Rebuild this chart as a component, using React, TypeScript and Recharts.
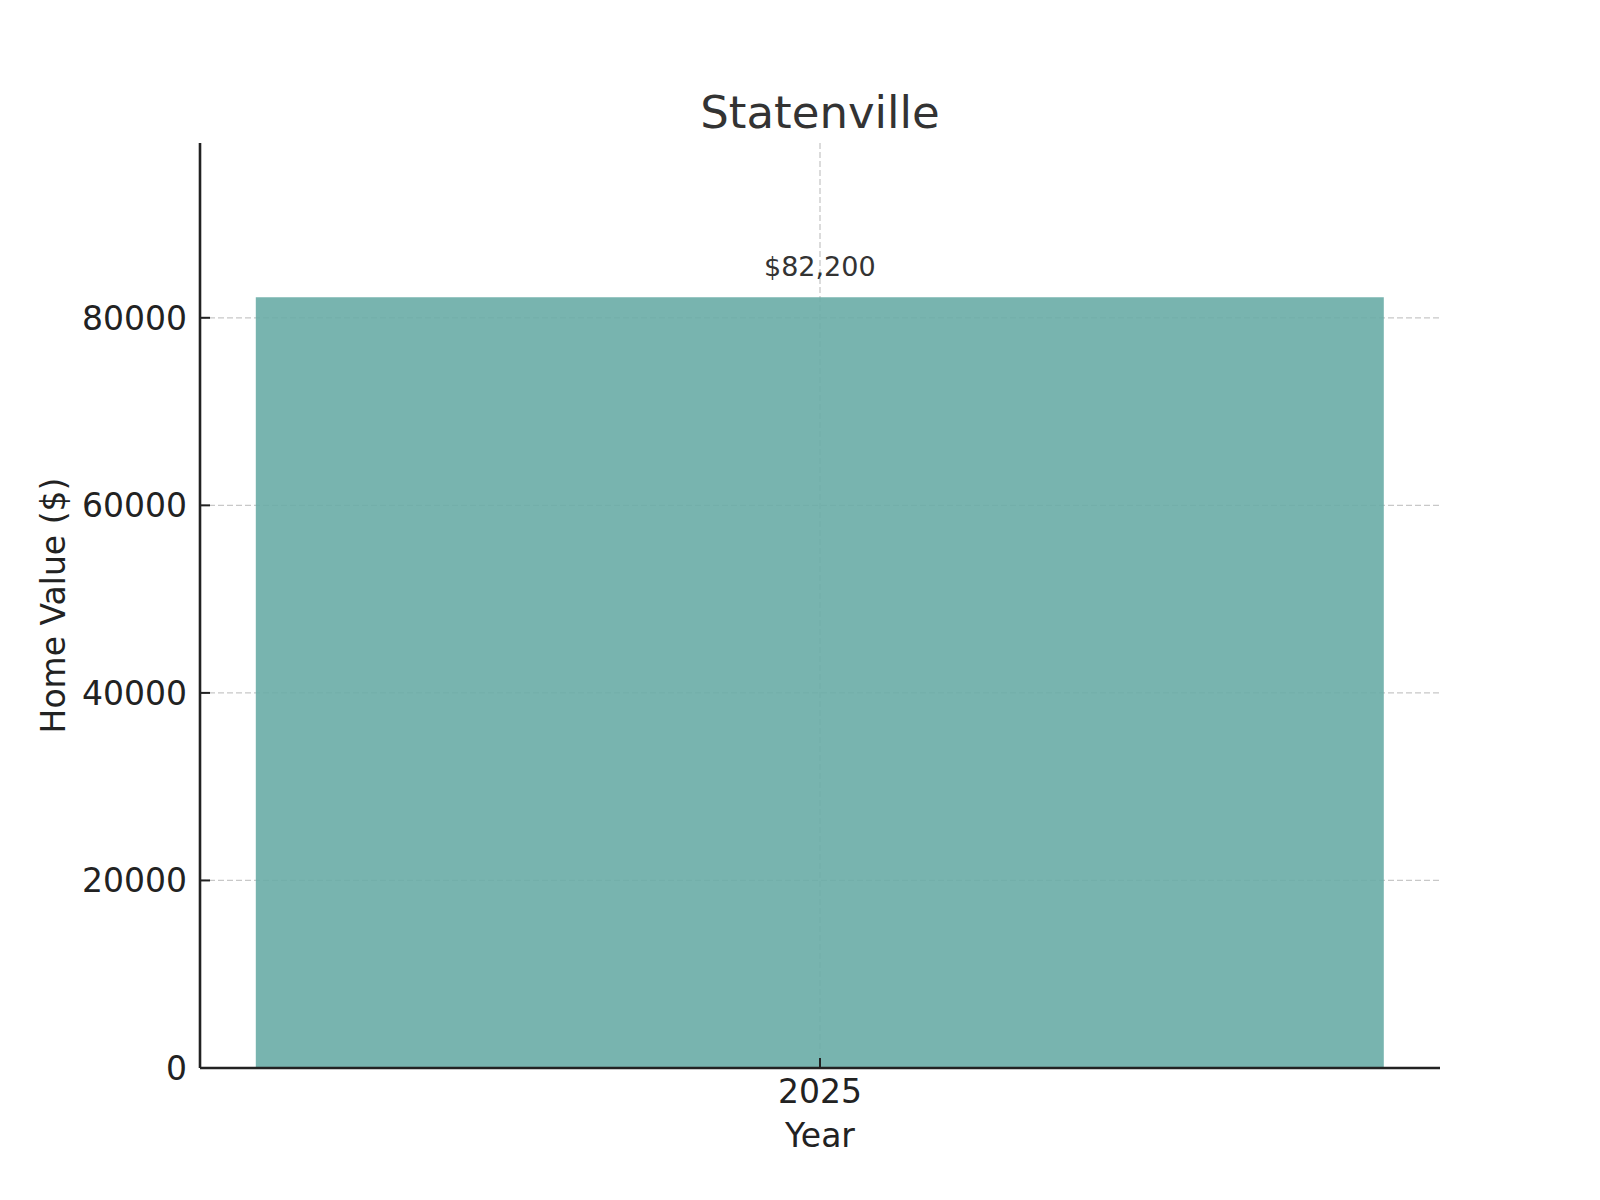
import { BarChart, Bar, XAxis, YAxis, CartesianGrid, LabelList } from 'recharts';

const years = ['2025'];
const homeValues = [82200];
const yTicks = [0, 20000, 40000, 60000, 80000];
const yMax = 98640;

const TEAL = '#69aca6';
const INK = '#222222';
const FONT = 'DejaVu Sans, sans-serif';

const data = years.map((year, i) => ({ year, value: homeValues[i] }));

function YTitle(props: any) {
  const { viewBox } = props;
  const x = viewBox.x + 5;
  const y = viewBox.y + viewBox.height / 2;
  return (
    <text x={x} y={y} transform={`rotate(-90, ${x}, ${y})`} textAnchor="middle" fontSize={33} fill={INK} fontFamily={FONT}>
      Home Value ($)
    </text>
  );
}

export default function App() {
  return (
    <div style={{ position: 'absolute', left: 0, top: 0, width: 1600, height: 1200, background: '#fff' }}>
      <BarChart width={1600} height={1200} data={data} margin={{ top: 143, right: 160, left: 60, bottom: 32 }} barCategoryGap="4.5%">
        <CartesianGrid strokeDasharray="6 3" stroke="#c8c8c8" strokeWidth={1.3} syncWithTicks />
        <XAxis
          dataKey="year"
          height={100}
          axisLine={{ stroke: INK, strokeWidth: 2.6 }}
          tickLine={{ stroke: INK, strokeWidth: 2 }}
          tickSize={-10}
          tickMargin={22}
          tick={{ fontSize: 33, fill: INK, fontFamily: FONT }}
          label={{ value: 'Year', position: 'insideBottom', offset: 21, fontSize: 33, fill: INK, fontFamily: FONT }}
        />
        <YAxis
          width={140}
          domain={[0, yMax]}
          ticks={yTicks}
          axisLine={{ stroke: INK, strokeWidth: 2.6 }}
          tickLine={{ stroke: INK, strokeWidth: 2 }}
          tickSize={-10}
          tickMargin={23}
          tick={{ fontSize: 33, fill: INK, fontFamily: FONT }}
          label={{ content: YTitle }}
        />
        <Bar dataKey="value" fill={TEAL} fillOpacity={0.9} isAnimationActive={false}>
          <LabelList
            dataKey="value"
            position="top"
            offset={21}
            formatter={(v: any) => `$${Number(v).toLocaleString('en-US')}`}
            style={{ fontSize: 27, fill: '#333333', fontFamily: FONT }}
          />
        </Bar>
      </BarChart>
      <svg width={1600} height={1200} style={{ position: 'absolute', left: 0, top: 0, pointerEvents: 'none' }}>
        <text x={820} y={128} textAnchor="middle" fontSize={45} fill="#333333" fontFamily={FONT}>
          Statenville
        </text>
      </svg>
    </div>
  );
}
